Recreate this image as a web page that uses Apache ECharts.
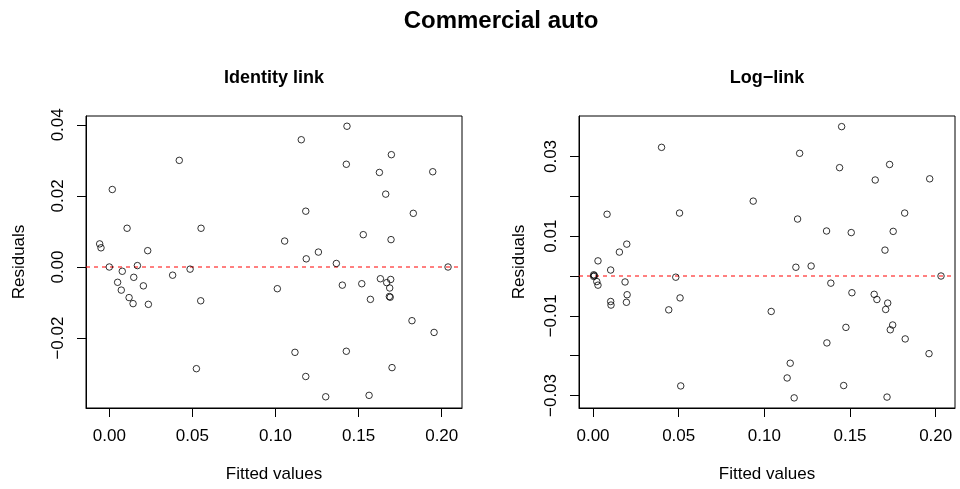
<!DOCTYPE html>
<html>
<head>
<meta charset="utf-8">
<script src="https://cdn.jsdelivr.net/npm/echarts@6/dist/echarts.min.js"></script>
<style>
  html, body { margin: 0; padding: 0; background: #fff; }
  #chart { width: 960px; height: 489px; }
</style>
</head>
<body>
<div id="chart"></div>
<script>
// identity link: fitted values and residuals
var identityFitted = [
  0.0421, 0.0018, 0.0107, 0.0552, -0.0058, -0.0050, 0.0231, 0.0000, 0.0169, 0.0078,
  0.0147, 0.0050, 0.0205, 0.0072, 0.0381, 0.0486, 0.0119, 0.0143, 0.0235, 0.0550,
  0.0524, 0.1011, 0.1430, 0.1155, 0.1697, 0.1426, 0.1625, 0.1946, 0.1663, 0.1182,
  0.1829, 0.1528, 0.1695, 0.1055, 0.1258, 0.1185, 0.1366, 0.2038, 0.1402, 0.1519,
  0.1631, 0.1669, 0.1693, 0.1687, 0.1685, 0.1690, 0.1571, 0.1821, 0.1954, 0.1117,
  0.1426, 0.1701, 0.1182, 0.1302, 0.1563
];
var identityResid = [
  0.0300, 0.0218, 0.0109, 0.0109, 0.0065, 0.0054, 0.0046, 0.0000, 0.0004, -0.0012,
  -0.0029, -0.0043, -0.0053, -0.0065, -0.0023, -0.0006, -0.0086, -0.0103, -0.0105, -0.0095,
  -0.0286, -0.0061, 0.0396, 0.0358, 0.0316, 0.0289, 0.0266, 0.0268, 0.0205, 0.0157,
  0.0151, 0.0091, 0.0077, 0.0073, 0.0042, 0.0023, 0.0010, 0.0000, -0.0051, -0.0047,
  -0.0033, -0.0044, -0.0035, -0.0059, -0.0083, -0.0085, -0.0091, -0.0151, -0.0184, -0.0240,
  -0.0237, -0.0283, -0.0308, -0.0365, -0.0361
];

// log link: fitted values and residuals
var logFitted = [
  0.0400, 0.0082, 0.0505, 0.0197, 0.0154, 0.0029, 0.0103, 0.0004, 0.0008, 0.0004,
  0.0022, 0.0029, 0.0187, 0.0483, 0.0199, 0.0103, 0.0105, 0.0195, 0.0508, 0.0442,
  0.0512, 0.0935, 0.1451, 0.1206, 0.1731, 0.1439, 0.1647, 0.1965, 0.1819, 0.1194,
  0.1363, 0.1507, 0.1752, 0.1704, 0.1184, 0.1273, 0.2031, 0.1388, 0.1511, 0.1641,
  0.1657, 0.1720, 0.1708, 0.1040, 0.1476, 0.1749, 0.1735, 0.1822, 0.1365, 0.1961,
  0.1151, 0.1133, 0.1463, 0.1174, 0.1716
];
var logResid = [
  0.0323, 0.0155, 0.0158, 0.0080, 0.0060, 0.0038, 0.0015, 0.0003, 0.0001, -0.0001,
  -0.0014, -0.0023, -0.0015, -0.0003, -0.0047, -0.0064, -0.0073, -0.0066, -0.0055, -0.0085,
  -0.0276, 0.0188, 0.0375, 0.0308, 0.0280, 0.0272, 0.0241, 0.0244, 0.0158, 0.0143,
  0.0113, 0.0109, 0.0112, 0.0065, 0.0022, 0.0025, 0.0000, -0.0018, -0.0042, -0.0046,
  -0.0059, -0.0068, -0.0084, -0.0089, -0.0129, -0.0123, -0.0135, -0.0158, -0.0168, -0.0195,
  -0.0219, -0.0256, -0.0275, -0.0306, -0.0304
];

// tick values
var xTicks = [0, 0.05, 0.10, 0.15, 0.20];
var xTickLabels = ['0.00', '0.05', '0.10', '0.15', '0.20'];
var identityYTicks = [-0.02, 0, 0.02, 0.04];
var logYTicks = [-0.03, -0.02, -0.01, 0, 0.01, 0.02, 0.03];
var logYLabels = [-0.03, -0.01, 0.01, 0.03];

// axis ranges (R style, data range + 4%)
var identityXRange = [-0.01402, 0.2122];
var identityYRange = [-0.03966, 0.04248];
var logXRange = [-0.00818, 0.21127];
var logYRange = [-0.03314, 0.04017];

var FONT = '"Liberation Sans", Arial, Helvetica, sans-serif';

function pairs(xs, ys) {
  var out = [];
  for (var i = 0; i < xs.length; i++) out.push([xs[i], ys[i]]);
  return out;
}

function fmt(v) {
  var s = Math.abs(v).toFixed(2);
  return (v < -1e-9 ? '\u2212' : '') + s;
}

var tickStyle = { show: true, inside: false, length: 9, lineStyle: { color: '#000', width: 1 } };
var lineStyle = { show: true, onZero: false, lineStyle: { color: '#000', width: 1 } };
var labelStyle = { color: '#000', fontSize: 17, fontFamily: FONT };

function xAxis(idx, range) {
  return {
    type: 'value', gridIndex: idx, min: range[0], max: range[1],
    axisLine: lineStyle,
    axisTick: Object.assign({ customValues: xTicks }, tickStyle),
    axisLabel: Object.assign({ customValues: xTicks, margin: 20,
      formatter: function (v) { return xTickLabels[xTicks.indexOf(Math.round(v * 100) / 100)] || v.toFixed(2); } }, labelStyle),
    splitLine: { show: false }
  };
}

function yAxis(idx, range, ticks, labels) {
  return {
    type: 'value', gridIndex: idx, min: range[0], max: range[1],
    axisLine: lineStyle,
    axisTick: Object.assign({ customValues: ticks }, tickStyle),
    axisLabel: Object.assign({ customValues: labels, rotate: 90, margin: 19, formatter: fmt }, labelStyle),
    splitLine: { show: false }
  };
}

function scatter(idx, data) {
  return {
    type: 'scatter', xAxisIndex: idx, yAxisIndex: idx, z: 3,
    data: data, symbol: 'circle', symbolSize: 6.5,
    itemStyle: { color: 'rgba(0,0,0,0)', borderColor: '#000', borderWidth: 1 },
    emphasis: { disabled: true }
  };
}

// horizontal reference line at residual 0
function zeroLine(idx, range) {
  return {
    type: 'line', xAxisIndex: idx, yAxisIndex: idx, z: 2,
    data: [[range[0], 0], [range[1], 0]],
    symbol: 'none', silent: true,
    lineStyle: { color: '#ff0000', width: 1, type: [4, 4] },
    emphasis: { disabled: true }
  };
}

function text(str, x, y, size, bold, rot) {
  return {
    type: 'text', x: x, y: y, rotation: rot || 0, silent: true,
    style: {
      text: str, fill: '#000', align: 'center', verticalAlign: 'middle',
      font: (bold ? 'bold ' : '') + size + 'px ' + FONT
    }
  };
}

var chart = echarts.init(document.getElementById('chart'), null, { renderer: 'canvas' });
chart.setOption({
  animation: false,
  backgroundColor: '#fff',
  grid: [
    { left: 86, top: 116, width: 376, height: 292, show: true, borderColor: '#000', borderWidth: 1, outerBoundsMode: 'none' },
    { left: 579, top: 116, width: 376, height: 292, show: true, borderColor: '#000', borderWidth: 1, outerBoundsMode: 'none' }
  ],
  xAxis: [xAxis(0, identityXRange), xAxis(1, logXRange)],
  yAxis: [
    yAxis(0, identityYRange, identityYTicks, identityYTicks),
    yAxis(1, logYRange, logYTicks, logYLabels)
  ],
  series: [
    zeroLine(0, identityXRange),
    scatter(0, pairs(identityFitted, identityResid)),
    zeroLine(1, logXRange),
    scatter(1, pairs(logFitted, logResid))
  ],
  graphic: [
    text('Commercial auto', 501, 21, 24, true),
    text('Identity link', 274, 78, 18, true),
    text('Log\u2212link', 767, 78, 18, true),
    text('Fitted values', 274, 474, 17, false),
    text('Fitted values', 767, 474, 17, false),
    text('Residuals', 19, 262, 17, false, Math.PI / 2),
    text('Residuals', 519, 262, 17, false, Math.PI / 2)
  ]
});
</script>
</body>
</html>
